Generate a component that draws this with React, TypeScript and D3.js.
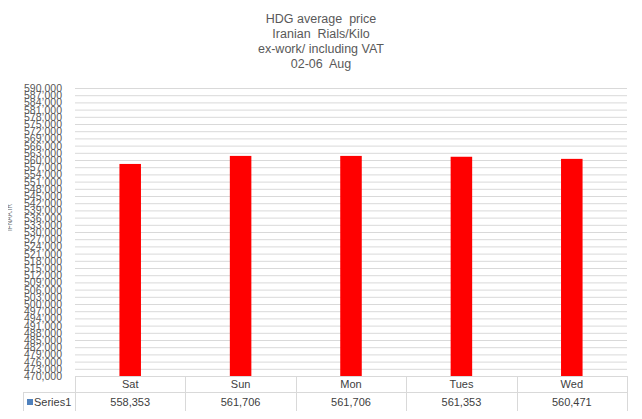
import React from "react";
import * as d3 from "d3";

const categories = ["Sat", "Sun", "Mon", "Tues", "Wed"];
const values = [558353, 561706, 561706, 561353, 560471];
const seriesName = "Series1";
const titleLines = ["HDG average  price", "Iranian  Rials/Kilo", "ex-work/ including VAT", "02-06  Aug"];
const yMin = 470000;
const yMax = 590000;
const yStep = 3000;

export default function App() {
  const W = 642, H = 419;
  const left = 75, right = 627, top = 88, bottom = 376;
  const y = d3.scaleLinear().domain([yMin, yMax]).range([bottom, top]);
  const x = d3.scaleBand<string>().domain(categories).range([left, right]).padding(0);
  const ticks = d3.range(yMin, yMax + 1, yStep);
  const fmt = d3.format(",");
  const barW = x.bandwidth() * 0.195;
  const rowH = 376, rowMid = 392, rowBot = 412;
  const grid = "#d9d9d9";
  const font = "'Liberation Sans', Arial, sans-serif";
  return (
    <div style={{ margin: -8 }}>
      <svg width={W} height={H} style={{ display: "block" }}>
        <rect x={0.5} y={0.5} width={W - 2} height={H - 2} fill="#fff" stroke="#d9d9d9" />
        {titleLines.map((t, i) => (
          <text key={i} x={321} y={22.5 + i * 15.2} textAnchor="middle" fontFamily={font} fontSize={12.5} fill="#595959" style={{ whiteSpace: "pre" }}>{t}</text>
        ))}
        <text transform="translate(12,231) rotate(-90)" x={0} y={0} fontFamily={font} fontSize={9.5} fill="#707070" textLength={27} lengthAdjust="spacingAndGlyphs">IFNAA.IR</text>
        {ticks.map((t) => (
          <g key={t}>
            {t !== yMin && <line x1={left} x2={right} y1={y(t) + 0.5} y2={y(t) + 0.5} stroke={grid} />}
            <text x={62} y={y(t) + 4} textAnchor="end" fontFamily={font} fontSize={10.5} fill="#595959">{fmt(t)}</text>
          </g>
        ))}
        {categories.map((c, i) => (
          <rect key={c} x={(x(c) as number) + x.bandwidth() / 2 - barW / 2} y={y(values[i])} width={barW} height={y(yMin) - y(values[i])} fill="#ff0000" />
        ))}
        <line x1={left} x2={right} y1={rowH + 0.5} y2={rowH + 0.5} stroke={grid} />
        <line x1={23} x2={right} y1={rowMid + 0.5} y2={rowMid + 0.5} stroke={grid} />
        <line x1={23} x2={right} y1={rowBot + 0.5} y2={rowBot + 0.5} stroke={grid} />
        <line x1={23.5} x2={23.5} y1={rowMid} y2={rowBot} stroke={grid} />
        {categories.map((c) => (
          <line key={c} x1={Math.round(x(c) as number) + 0.5} x2={Math.round(x(c) as number) + 0.5} y1={rowH} y2={rowBot} stroke={grid} />
        ))}
        <line x1={right + 0.5} x2={right + 0.5} y1={rowH} y2={rowBot} stroke={grid} />
        {categories.map((c, i) => (
          <g key={c}>
            <text x={(x(c) as number) + x.bandwidth() / 2} y={388} textAnchor="middle" fontFamily={font} fontSize={11} fill="#404040">{c}</text>
            <text x={(x(c) as number) + x.bandwidth() / 2} y={406} textAnchor="middle" fontFamily={font} fontSize={11} fill="#404040">{fmt(values[i])}</text>
          </g>
        ))}
        <rect x={27} y={399} width={6} height={6} fill="#4f81bd" />
        <text x={34} y={406} fontFamily={font} fontSize={11} fill="#404040">{seriesName}</text>
      </svg>
    </div>
  );
}
